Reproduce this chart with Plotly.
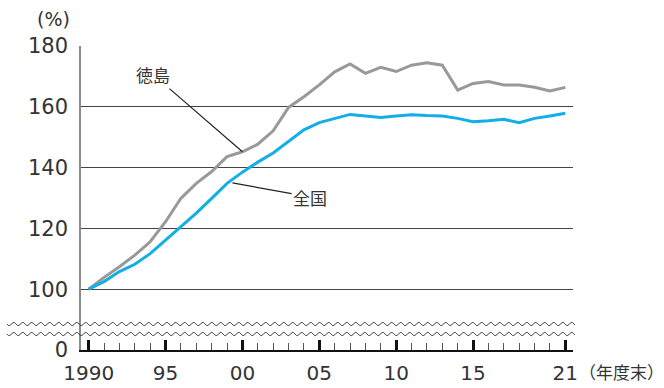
import numpy as np
import plotly.graph_objects as go

years = list(range(1990, 2022))
tokushima = [100, 103.9, 107.4, 111.2, 115.6, 122.2, 129.9, 134.8, 138.7, 143.6,
             145.2, 147.7, 152.1, 159.8, 163.3, 167.2, 171.5, 174.1, 171.0, 173.0,
             171.6, 173.7, 174.5, 173.7, 165.5, 167.7, 168.3, 167.2, 167.2, 166.4,
             165.2, 166.4]
zenkoku = [100, 102.5, 105.8, 108.2, 111.7, 116.2, 120.4, 125.0, 129.9, 134.8,
           138.5, 141.8, 144.8, 148.6, 152.4, 154.8, 156.2, 157.5, 157.0, 156.5,
           157.0, 157.4, 157.1, 157.0, 156.2, 155.1, 155.4, 155.9, 154.8, 156.2,
           157.0, 157.9]
x_tickvals = [1990, 1995, 2000, 2005, 2010, 2015, 2021]
x_ticktext = ["1990", "95", "00", "05", "10", "15", "21"]
y_tickvals = [80, 100, 120, 140, 160, 180]
y_ticktext = ["0", "100", "120", "140", "160", "180"]

FONT = "DejaVu Sans"
CJK = "Noto Sans CJK JP"
TXT = "#333333"

fig = go.Figure()
fig.add_trace(go.Scatter(x=years, y=tokushima, mode="lines",
                         line=dict(color="#999999", width=3), name="徳島"))
fig.add_trace(go.Scatter(x=years, y=zenkoku, mode="lines",
                         line=dict(color="#12aee8", width=3), name="全国"))

W, H = 664, 388
L, R, T, B = 81, 91, 46, 38
pw, ph = W - L - R, H - T - B

# wavy break lines (paper coords)
def wave_path(y_px):
    xs = np.arange(7, 575.5, 0.75)
    ys = y_px + 1.6 * np.sin(2 * np.pi * (xs - 7) / 9.0)
    pts = [((x - L) / pw, (H - B - y) / ph) for x, y in zip(xs, ys)]
    return "M " + " L ".join(f"{a:.5f},{b:.5f}" for a, b in pts)

shapes = []
for yp in (324, 334):
    shapes.append(dict(type="path", xref="paper", yref="paper", path=wave_path(yp),
                       line=dict(color="#333333", width=1)))

annotations = [
    dict(x=2000, y=145.2, xref="x", yref="y", ax=1994.2, ay=170.6, axref="x", ayref="y",
         text="徳島", showarrow=True, arrowhead=0, arrowwidth=1.2, arrowcolor="#222222",
         font=dict(family=CJK, size=17, color=TXT)),
    dict(x=1999.35, y=135.0, xref="x", yref="y", ax=2004.4, ay=130.3, axref="x", ayref="y",
         text="全国", showarrow=True, arrowhead=0, arrowwidth=1.2, arrowcolor="#222222",
         font=dict(family=CJK, size=17, color=TXT)),
    dict(x=(577 - L) / pw, y=(H - B - 371.5) / ph, xref="paper", yref="paper",
         xanchor="left", yanchor="middle", showarrow=False, text="（年度末）",
         font=dict(family=CJK, size=17, color=TXT)),
    dict(x=(53 - L) / pw, y=(H - B - 19) / ph, xref="paper", yref="paper",
         xanchor="center", yanchor="middle", showarrow=False, text="(%)",
         font=dict(family=FONT, size=19, color=TXT)),
]

fig.update_layout(
    width=W, height=H,
    margin=dict(l=L, r=R, t=T, b=B, pad=0, autoexpand=False),
    paper_bgcolor="white", plot_bgcolor="white",
    showlegend=False,
    shapes=shapes, annotations=annotations,
    xaxis=dict(range=[1989.5, 2021.5], tickmode="array", tickvals=x_tickvals,
               ticktext=x_ticktext, ticks="inside", ticklen=10, tickwidth=2.5,
               tickcolor="#111111", showgrid=False, zeroline=False,
               showline=True, linecolor="#111111", linewidth=1.5,
               tickfont=dict(family=FONT, size=20, color=TXT),
               ticklabelstandoff=4, automargin=False,
               minor=dict(tickmode="linear", tick0=1990, dtick=1, ticks="inside",
                          ticklen=7, tickwidth=1, tickcolor="#555555", showgrid=False)),
    yaxis=dict(range=[80, 180], tickmode="array", tickvals=y_tickvals,
               ticktext=y_ticktext, ticks="", showgrid=True, gridcolor="#444444",
               gridwidth=1, zeroline=False, showline=True, linecolor="#8c8c8c",
               linewidth=1.5, tickfont=dict(family=FONT, size=21, color=TXT),
               ticklabelstandoff=7, automargin=False),
)

fig.write_html("out.html")
